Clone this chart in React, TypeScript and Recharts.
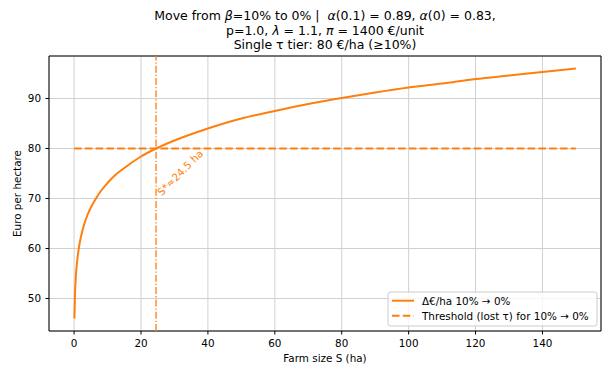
import React from 'react';
import {
  ComposedChart,
  Line,
  XAxis,
  YAxis,
  CartesianGrid,
  ReferenceLine,
  ReferenceDot,
  ReferenceArea,
} from 'recharts';

// Farm size S (ha)
const farmSize = [0.1, 0.25, 0.5, 1, 1.5, 2, 3, 4, 5, 6, 8, 10, 12, 15, 20, 24.5, 30, 40, 50, 60, 70, 80, 90, 100, 110, 120, 130, 140, 150];
// Δ€/ha 10% → 0%
const deltaEuro = [46.0, 50.4, 54.1, 58.0, 60.4, 62.2, 64.8, 66.7, 68.2, 69.4, 71.5, 73.1, 74.5, 76.1, 78.4, 80.0, 81.6, 84.0, 86.0, 87.5, 88.9, 90.1, 91.2, 92.2, 93.0, 93.9, 94.6, 95.3, 96.0];
// Threshold (lost τ)
const thresholdSizes = [0, 150];
const thresholdValues = [80, 80];
const sStar = 24.5;
const sStarLabelY = 70.4;
const sStarLabel = 'S*≈24.5 ha';
const xTicks = [0, 20, 40, 60, 80, 100, 120, 140];
const yTicks = [50, 60, 70, 80, 90];
const xDomain = [-7.5, 157.5];
const yDomain = [43.5, 98.5];

const ORANGE = '#ff7f0e';
const FONT = 'DejaVu Sans, sans-serif';

const curveData = farmSize.map((S, i) => ({ S, v: deltaEuro[i] }));
const thresholdData = thresholdSizes.map((S, i) => ({ S, v: thresholdValues[i] }));

const W = 603;
const H = 369;

export default function App() {
  return (
    <div style={{ position: 'absolute', left: 0, top: 0, width: W, height: H, background: '#fff', fontFamily: FONT }}>
      <ComposedChart
        width={W}
        height={H}
        margin={{ top: 56, right: 2, bottom: 0, left: 0 }}
        style={{ position: 'absolute', left: 0, top: 0 }}
      >
        <CartesianGrid stroke="#d0d0d0" strokeWidth={1} />
        <XAxis
          type="number"
          dataKey="S"
          domain={xDomain}
          ticks={xTicks}
          allowDataOverflow
          height={38}
          axisLine={false}
          tickLine={{ stroke: '#000' }}
          tickSize={3.5}
          tickMargin={5}
          tick={{ fill: '#000', fontSize: 10.4, fontFamily: FONT }}
        />
        <YAxis
          type="number"
          domain={yDomain}
          ticks={yTicks}
          allowDataOverflow
          width={49}
          axisLine={false}
          tickLine={{ stroke: '#000' }}
          tickSize={3.5}
          tickMargin={4.5}
          tick={{ fill: '#000', fontSize: 10.4, fontFamily: FONT }}
        />
        <Line
          data={curveData}
          dataKey="v"
          type="monotone"
          stroke={ORANGE}
          strokeWidth={2}
          dot={false}
          isAnimationActive={false}
        />
        <Line
          data={thresholdData}
          dataKey="v"
          type="linear"
          stroke={ORANGE}
          strokeWidth={2}
          strokeDasharray="7.5 3.3"
          dot={false}
          isAnimationActive={false}
        />
        <ReferenceLine
          x={sStar}
          stroke={ORANGE}
          strokeWidth={1.3}
          strokeDasharray="7 2 1.3 2"
        />
        <ReferenceDot
          x={sStar}
          y={sStarLabelY}
          r={0}
          ifOverflow="visible"
          shape={(p: any) => {
            const x = p.cx + 5.6;
            const y = p.cy;
            return (
              <text
                x={x}
                y={y}
                fill={ORANGE}
                fontSize={10.4}
                fontFamily={FONT}
                transform={`rotate(-45, ${x}, ${y})`}
              >
                {sStarLabel}
              </text>
            );
          }}
        />
        <ReferenceArea
          x1={xDomain[0]}
          x2={xDomain[1]}
          y1={yDomain[0]}
          y2={yDomain[1]}
          fill="none"
          fillOpacity={0}
          stroke="#000"
          strokeWidth={1}
          ifOverflow="visible"
        />
      </ComposedChart>
      <svg
        width={W}
        height={H}
        style={{ position: 'absolute', left: 0, top: 0, pointerEvents: 'none' }}
      >
        <g fontFamily={FONT} fill="#000" textAnchor="middle" fontSize={12.5}>
          <text x={325} y={20}>
            {'Move from '}<tspan fontStyle="italic">β</tspan>{'=10% to 0% |\u00a0 '}<tspan fontStyle="italic">α</tspan>{'(0.1) = 0.89, '}<tspan fontStyle="italic">α</tspan>{'(0) = 0.83,'}
          </text>
          <text x={325} y={34.5}>
            {'p=1.0, '}<tspan fontStyle="italic">λ</tspan>{' = 1.1, '}<tspan fontStyle="italic">π</tspan>{' = 1400 €/unit'}
          </text>
          <text x={325} y={49}>Single τ tier: 80 €/ha (≥10%)</text>
        </g>
        <text x={325} y={362} fontFamily={FONT} fontSize={10.4} textAnchor="middle" fill="#000">
          Farm size S (ha)
        </text>
        <text
          x={21}
          y={193.5}
          fontFamily={FONT}
          fontSize={10.4}
          textAnchor="middle"
          fill="#000"
          transform="rotate(-90, 21, 193.5)"
        >
          Euro per hectare
        </text>
        <g fontFamily={FONT} fontSize={10.4} fill="#000">
          <rect x={388} y={292} width={209} height={34} rx={2.5} fill="#fff" fillOpacity={0.8} stroke="#cccccc" strokeWidth={1} />
          <line x1={392} x2={414} y1={300.7} y2={300.7} stroke={ORANGE} strokeWidth={2} />
          <text x={422} y={304.5}>Δ€/ha 10% → 0%</text>
          <line x1={392} x2={414} y1={315.7} y2={315.7} stroke={ORANGE} strokeWidth={2} strokeDasharray="7.5 3.3" />
          <text x={422} y={319.5}>Threshold (lost τ) for 10% → 0%</text>
        </g>
      </svg>
    </div>
  );
}
